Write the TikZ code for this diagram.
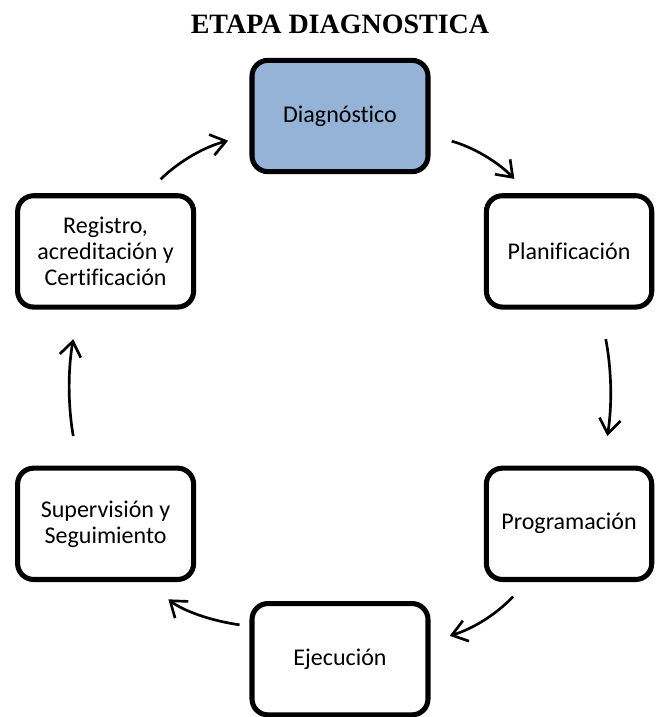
\documentclass[tikz,border=0pt]{standalone}
\usepackage{fontspec}
\setmainfont{Carlito}[Ligatures=CommonOff]
\newfontfamily\titlefont{Liberation Serif}
\usetikzlibrary{arrows.meta,positioning}
\definecolor{diagblue}{HTML}{95B3D7}

\begin{document}
\begin{tikzpicture}[
          x=0.75pt, y=-0.75pt,
          node distance=14.25pt and 40pt,
          box/.style={rectangle, rounded corners=12pt, draw, line width=3.8pt, align=center,
                      font=\fontsize{18}{19.5}\selectfont, minimum width=132pt,
                      minimum height=83.5pt, inner sep=2pt},
          arr/.style={->, line width=2pt},
          >={Straight Barb[length=11pt,width=16pt]}
        ]
        \useasboundingbox (0,0) rectangle (657,717);
        \node[box, fill=diagblue] (diag) at (340,116) {Diagnóstico};
        \node[inner sep=0pt, font=\titlefont\bfseries\fontsize{21}{24}\selectfont,
              above=18pt of diag] (ttl) {ETAPA DIAGNOSTICA};
        \node[box, minimum width=124pt, below right=of diag] (plan) {Planificación};
        \node[box, below left=of diag] (regi) {Registro,\\acreditación y\\Certificación};
        \node[box, minimum width=124pt, below=117pt of plan] (prog) {Programación};
        \node[box, below=117pt of regi] (supe) {Supervisión y\\Seguimiento};
        \node[box, below left=of prog] (ejec) {Ejecución};
        % ciclo de flechas
        \draw[arr, shorten <=16.5pt, shorten >=15pt] (diag.-12) to[bend left=15] (plan.125);
        \draw[arr, shorten <=22.5pt, shorten >=22.5pt] (plan.-62) to[bend left=10] (prog.60);
        \draw[arr, shorten <=15pt, shorten >=15pt] (prog.-126) to[bend left=15] (ejec.11);
        \draw[arr, shorten <=7.5pt, shorten >=21pt] (ejec.160) to[bend left=15] (supe.-55);
        \draw[arr, shorten <=22.5pt, shorten >=22.5pt] (supe.115) to[bend left=10] (regi.-115);
        \draw[arr, shorten <=15pt, shorten >=16.5pt] (regi.55) to[bend left=15] (diag.192);
      \end{tikzpicture}
\end{document}
